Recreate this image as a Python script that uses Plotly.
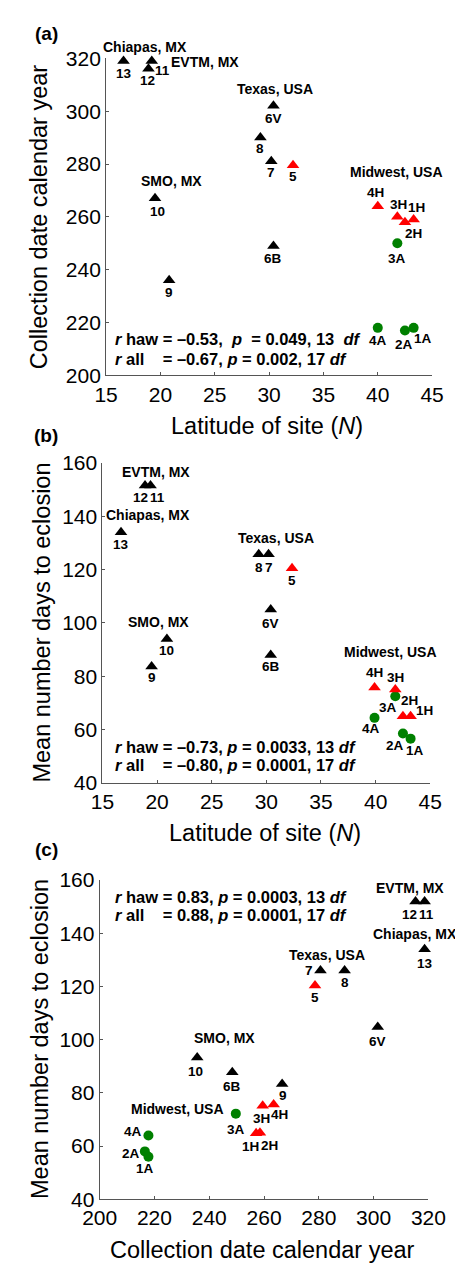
import plotly.graph_objects as go

# The page is drawn with an 8 px body margin, so the figure is sized to fill the
# remaining window and reference pixel positions are shifted by that margin.
OFF = 8
W, H = 463 - OFF, 1278 - OFF
FONT = "Liberation Sans, Arial, sans-serif"

sites = ["1A", "2A", "3A", "4A", "1H", "2H", "3H", "4H", "5",
         "6B", "6V", "7", "8", "9", "10", "11", "12", "13"]
group = ["apple"] * 4 + ["haw_red"] * 5 + ["haw_black"] * 9

# Panel (a): latitude vs collection date
a_lat = [43.3, 42.5, 41.8, 40.0, 43.3, 42.5, 41.8, 40.0, 32.2,
         30.4, 30.4, 30.2, 29.2, 20.8, 19.5, 19.2, 18.9, 16.6]
a_date = [218, 217, 250, 218, 259, 258, 260, 264, 279.5,
          249, 302, 281, 290, 236, 267, 319, 316, 319]

# Panel (b): latitude vs mean days to eclosion
b_lat = [43.2, 42.5, 41.8, 39.9, 43.2, 42.5, 41.8, 39.9, 32.35,
         30.4, 30.4, 30.2, 29.3, 19.5, 20.9, 19.4, 18.9, 16.7]
b_days = [56.6, 58.5, 72.5, 64.4, 65, 65, 75, 75.8, 120.5,
          88, 105, 125.7, 125.7, 83.6, 94, 151.5, 151.5, 134]

# Panel (c): collection date vs mean days to eclosion
c_date = [217.8, 216.5, 249.7, 217.8, 257.1, 258.5, 259.5, 263.5, 278.6,
          248.4, 301.5, 280.6, 289.4, 266.6, 235.6, 318.6, 315.3, 318.6]
c_days = [56, 58, 72.2, 64, 64.8, 65, 75.2, 75.6, 120.4,
          87.8, 104.8, 126, 126, 83.3, 93.3, 152, 152, 134]

# label offsets (px) per panel, same order as sites
a_off = [(9, -11), (-1, -14), (0, -15), (0, -13), (3, 12), (9, -11), (1, 12), (-2, 14), (0, -11),
         (0, -13), (0, -13), (0, -11), (0, -11), (0, -12), (2, -13), (11, -10), (-1, -12), (0, -13)]
b_off = [(4, -12), (-8, -12), (-7, -11), (-4, -11), (14, 6), (7, 16), (0, 12), (0, 15), (0, -12),
         (0, -12), (0, -14), (0, -13), (0, -13), (0, -11), (0, -12), (7, -12), (-5, -12), (0, -12)]
c_off = [(-3, -12), (-14, -2), (0, -16), (-15, 4), (-6, -13), (10, -13), (-1, -13), (6, -10), (0, -12),
         (0, -14), (0, -15), (-11, 0), (0, -12), (1, -11), (-2, -14), (2, -13), (-6, -13), (0, -14)]

style = {
    "apple": dict(symbol="circle", color="#008000", size=10),
    "haw_red": dict(symbol="triangle-up", color="#ff0000", size=11),
    "haw_black": dict(symbol="triangle-up", color="#000000", size=11),
}

# plot area pixel boxes in the reference: (left, right, top, bottom)
boxes = [(95, 449, 47, 370), (91, 447, 459, 785), (88, 445, 884, 1209)]
xranges = [[15, 45], [15, 45], [200, 320]]
yranges = [[200, 320], [40, 160], [40, 160]]
xdt = [5, 5, 20]
ydt = [20, 20, 20]

panels = [(a_lat, a_date, a_off), (b_lat, b_days, b_off), (c_date, c_days, c_off)]


def fx(x):
    return (x - OFF) / W


def fy(y):
    return 1 - (y - OFF) / H


fig = go.Figure()
annotations = []

for i, (xs, ys, offs) in enumerate(panels):
    sfx = "" if i == 0 else str(i + 1)
    for g in ["apple", "haw_red", "haw_black"]:
        idx = [k for k in range(len(sites)) if group[k] == g]
        st = style[g]
        fig.add_trace(go.Scatter(
            x=[xs[k] for k in idx], y=[ys[k] for k in idx], mode="markers",
            marker=dict(symbol=st["symbol"], color=st["color"], size=st["size"], line=dict(width=0)),
            xaxis="x" + sfx, yaxis="y" + sfx, showlegend=False, cliponaxis=False))
    for k, s in enumerate(sites):
        annotations.append(dict(
            x=xs[k], y=ys[k], xref="x" + sfx, yref="y" + sfx, text="<b>%s</b>" % s,
            showarrow=False, xshift=offs[k][0], yshift=offs[k][1],
            font=dict(family=FONT, size=13.5, color="black")))
    l, r, t, b = boxes[i]
    axcommon = dict(showline=True, linecolor="#555555", linewidth=1, ticks="inside", ticklen=3,
                    tickcolor="#555555", showgrid=False, zeroline=False,
                    tickfont=dict(family=FONT, size=21, color="black"))
    fig.update_layout(**{
        "xaxis" + sfx: dict(domain=[fx(l), fx(r)], range=xranges[i], dtick=xdt[i],
                           anchor="y" + sfx, **axcommon),
        "yaxis" + sfx: dict(domain=[fy(b), fy(t)], range=yranges[i], dtick=ydt[i],
                           anchor="x" + sfx, **axcommon),
    })

# region labels: (text, ref px x, ref px y, anchor)
regions = [
    ("Chiapas, MX", 137, 35, "center"), ("EVTM, MX", 202, 51, "center"),
    ("Texas, USA", 278, 78, "center"), ("SMO, MX", 166, 172, "center"),
    ("Midwest, USA", 410, 163, "center"),
    ("EVTM, MX", 149, 468, "center"), ("Chiapas, MX", 141, 512, "center"),
    ("Texas, USA", 279, 536, "center"), ("SMO, MX", 152, 621, "center"),
    ("Midwest, USA", 404, 652, "center"),
    ("EVTM, MX", 425, 892, "center"), ("Chiapas, MX", 383, 939, "left"),
    ("Texas, USA", 335, 960, "center"), ("SMO, MX", 224, 1045, "center"),
    ("Midwest, USA", 172, 1117, "center"),
]
for text, x, y, anc in regions:
    annotations.append(dict(x=fx(x), y=fy(y), xref="paper", yref="paper", text="<b>%s</b>" % text,
                            showarrow=False, xanchor=anc, yanchor="middle",
                            font=dict(family=FONT, size=14, color="black")))

# statistics text (one annotation per line)
NB = "\u00a0"
stats = [
    (103, 333, "<i>r</i> haw = \u20130.53," + NB * 2 + "<i>p</i>" + NB * 2 + "= 0.049, 13" + NB * 2 + "<i>df</i>"),
    (103, 353, "<i>r</i> all" + NB * 4 + "= \u20130.67, <i>p</i> = 0.002, 17 <i>df</i>"),
    (102, 748, "<i>r</i> haw = \u20130.73, <i>p</i> = 0.0033, 13 <i>df</i>"),
    (102, 767, "<i>r</i> all" + NB * 4 + "= \u20130.80, <i>p</i> = 0.0001, 17 <i>df</i>"),
    (103, 901, "<i>r</i> haw = 0.83, <i>p</i> = 0.0003, 13 <i>df</i>"),
    (103, 920, "<i>r</i> all" + NB * 4 + "= 0.88, <i>p</i> = 0.0001, 17 <i>df</i>"),
]
for x, y, t in stats:
    annotations.append(dict(x=fx(x), y=fy(y), xref="paper", yref="paper", text="<b>%s</b>" % t,
                            showarrow=False, xanchor="left", yanchor="middle",
                            font=dict(family=FONT, size=16.5, color="black")))

# panel letters
for text, x, y in [("(a)", 30, 22), ("(b)", 30, 431), ("(c)", 30, 853)]:
    annotations.append(dict(x=fx(x), y=fy(y), xref="paper", yref="paper", text="<b>%s</b>" % text,
                            showarrow=False, xanchor="center", yanchor="middle",
                            font=dict(family=FONT, size=19, color="black")))

# axis titles
titles = [
    ("Collection date calendar year", 23, 208, -90),
    ("Mean number days to eclosion", 25, 622, -90),
    ("Mean number days to eclosion", 23, 1046, -90),
    ("Latitude of site (<i>N</i>)", 270, 421, 0),
    ("Latitude of site (<i>N</i>)", 268, 836, 0),
    ("Collection date calendar year", 265, 1261, 0),
]
for text, x, y, ang in titles:
    annotations.append(dict(x=fx(x), y=fy(y), xref="paper", yref="paper", text=text, textangle=ang,
                            showarrow=False, xanchor="center", yanchor="middle",
                            font=dict(family=FONT, size=23.5, color="black")))

fig.update_layout(width=W, height=H, margin=dict(l=0, r=0, t=0, b=0),
                  paper_bgcolor="white", plot_bgcolor="white",
                  annotations=annotations, font=dict(family=FONT))
fig.write_html("out.html")
